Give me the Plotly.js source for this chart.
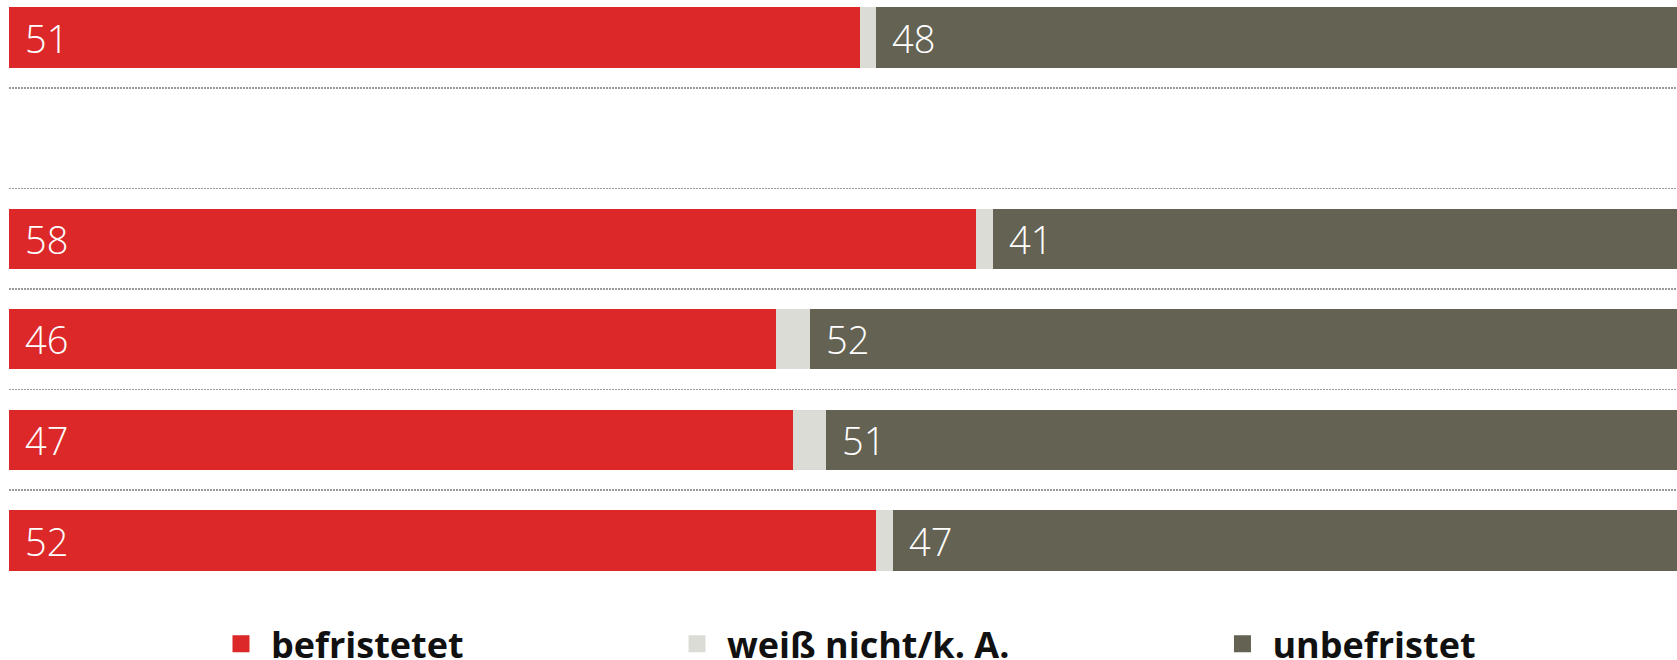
<!DOCTYPE html>
<html>
<head>
<meta charset="utf-8">
<script src="https://cdn.plot.ly/plotly-3.0.1.min.js"></script>
<style>
  html, body { margin: 0; padding: 0; background: #ffffff; }
  #chart { width: 1677px; height: 660px; }
</style>
</head>
<body>
<div id="chart"></div>
<script>
// Rows (top to bottom); the second slot is an empty spacer row in the original
const categories = ["Zeile 1", "Leerzeile", "Zeile 2", "Zeile 3", "Zeile 4", "Zeile 5"];
const befristet   = [51, null, 58, 46, 47, 52];
const weissNicht  = [1,  null, 1,  2,  2,  1];
const unbefristet = [48, null, 41, 52, 51, 47];

const seriesNames = ["befristetet", "weiß nicht/k. A.", "unbefristet"];
const seriesColors = ["#DC2829", "#DCDCD7", "#646253"];
const seriesValues = [befristet, weissNicht, unbefristet];
const legendIds = ["legend", "legend2", "legend3"];

const labelFont = { family: "Open Sans, sans-serif", size: 38, color: "#ffffff", weight: 300 };
const legendFont = { family: "Open Sans, sans-serif", size: 36, color: "#111111", weight: 700 };

const traces = [];
seriesValues.forEach(function (vals, k) {
  traces.push({
    type: "bar",
    orientation: "h",
    name: seriesNames[k],
    y: categories,
    x: vals,
    marker: { color: seriesColors[k], line: { width: 0 } },
    showlegend: false,
    hoverinfo: "x+name"
  });
});
// legend entries (same series, larger swatches)
seriesNames.forEach(function (nm, k) {
  traces.push({
    type: "bar",
    orientation: "h",
    name: nm,
    y: [categories[0]],
    x: [null],
    marker: { color: seriesColors[k], line: { color: seriesColors[k], width: 5 } },
    legend: legendIds[k],
    showlegend: true,
    hoverinfo: "skip"
  });
});

// value labels placed at the start of the red and dark segments
const annotations = [];
categories.forEach(function (c, i) {
  if (befristet[i] == null) return;
  annotations.push({
    x: 0, y: c, xref: "x", yref: "y",
    text: String(befristet[i]),
    showarrow: false, xanchor: "left", yanchor: "middle",
    xshift: 14, font: labelFont
  });
  annotations.push({
    x: befristet[i] + weissNicht[i], y: c, xref: "x", yref: "y",
    text: String(unbefristet[i]),
    showarrow: false, xanchor: "left", yanchor: "middle",
    xshift: 14, font: labelFont
  });
});

function legendAt(xPaper) {
  return {
    x: xPaper, xanchor: "left",
    y: -0.073, yanchor: "middle",
    orientation: "h",
    bgcolor: "rgba(0,0,0,0)",
    borderwidth: 0,
    itemwidth: 50,
    font: legendFont,
    itemclick: false, itemdoubleclick: false
  };
}

const layout = {
  width: 1677,
  height: 660,
  margin: { l: 9, r: 0, t: 0, b: 60, pad: 0, autoexpand: false },
  paper_bgcolor: "#ffffff",
  plot_bgcolor: "#ffffff",
  barmode: "stack",
  bargap: 0.4,
  showlegend: true,
  xaxis: {
    range: [0, 100],
    showgrid: false, zeroline: false, showticklabels: false, ticks: "",
    showline: false, fixedrange: true
  },
  yaxis: {
    type: "category",
    categoryorder: "array",
    categoryarray: categories,
    range: [5.5914, -0.3728],
    tickson: "boundaries",
    showgrid: true,
    gridcolor: "#9a9a9a",
    gridwidth: 1.5,
    griddash: "1.5px,1.5px",
    showticklabels: false, ticks: "",
    zeroline: false, showline: false, fixedrange: true
  },
  legend: legendAt(0.1211),
  legend2: legendAt(0.3945),
  legend3: legendAt(0.7215),
  annotations: annotations
};

Plotly.newPlot("chart", traces, layout, { displayModeBar: false, staticPlot: true });
</script>
</body>
</html>
